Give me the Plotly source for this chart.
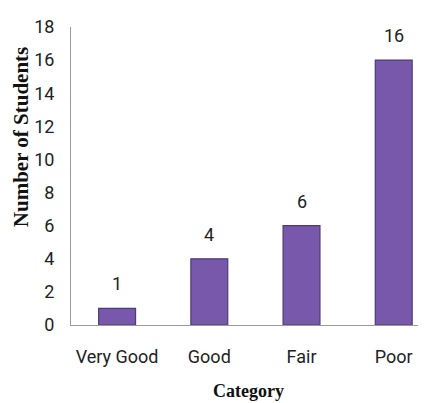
import plotly.graph_objects as go

categories = ["Very Good", "Good", "Fair", "Poor"]
students = [1, 4, 6, 16]
y_ticks = [0, 2, 4, 6, 8, 10, 12, 14, 16, 18]

tick_font = dict(family="Roboto, Liberation Sans", size=18, color="#222222")
title_font = dict(family="Liberation Serif, DejaVu Serif", size=21, color="#111111")

fig = go.Figure()
fig.add_trace(go.Bar(
    x=categories, y=students,
    width=0.4,
    marker=dict(color="#7858AA", line=dict(color="#4F3A78", width=1.2)),
    cliponaxis=False,
))

for c, v in zip(categories, students):
    fig.add_annotation(x=c, y=v, text=str(v), showarrow=False,
                       yanchor="bottom", yshift=12, font=tick_font)

fig.add_annotation(xref="paper", yref="paper", x=-0.141, y=0.63,
                   text="<b>Number of Students</b>", textangle=-90,
                   showarrow=False, font=title_font, xanchor="center", yanchor="middle")

fig.update_layout(
    width=418, height=395,
    margin=dict(l=63, r=0, t=19, b=78),
    paper_bgcolor="white", plot_bgcolor="white",
    showlegend=False,
)
fig.update_xaxes(
    range=[-0.5, 3.35],
    showline=True, linecolor="#9a9a9a", linewidth=1,
    ticks="", tickfont=tick_font, ticklabelstandoff=15,
    title=dict(text="<b>Category</b>", font=dict(title_font, size=18), standoff=18),
    showgrid=False, zeroline=False,
)
fig.update_yaxes(
    range=[0, 18], tickvals=y_ticks,
    showline=True, linecolor="#9a9a9a", linewidth=1,
    ticks="", tickfont=tick_font, ticklabelstandoff=12,
    showgrid=False, zeroline=False,
)

fig.write_html("out.html")
